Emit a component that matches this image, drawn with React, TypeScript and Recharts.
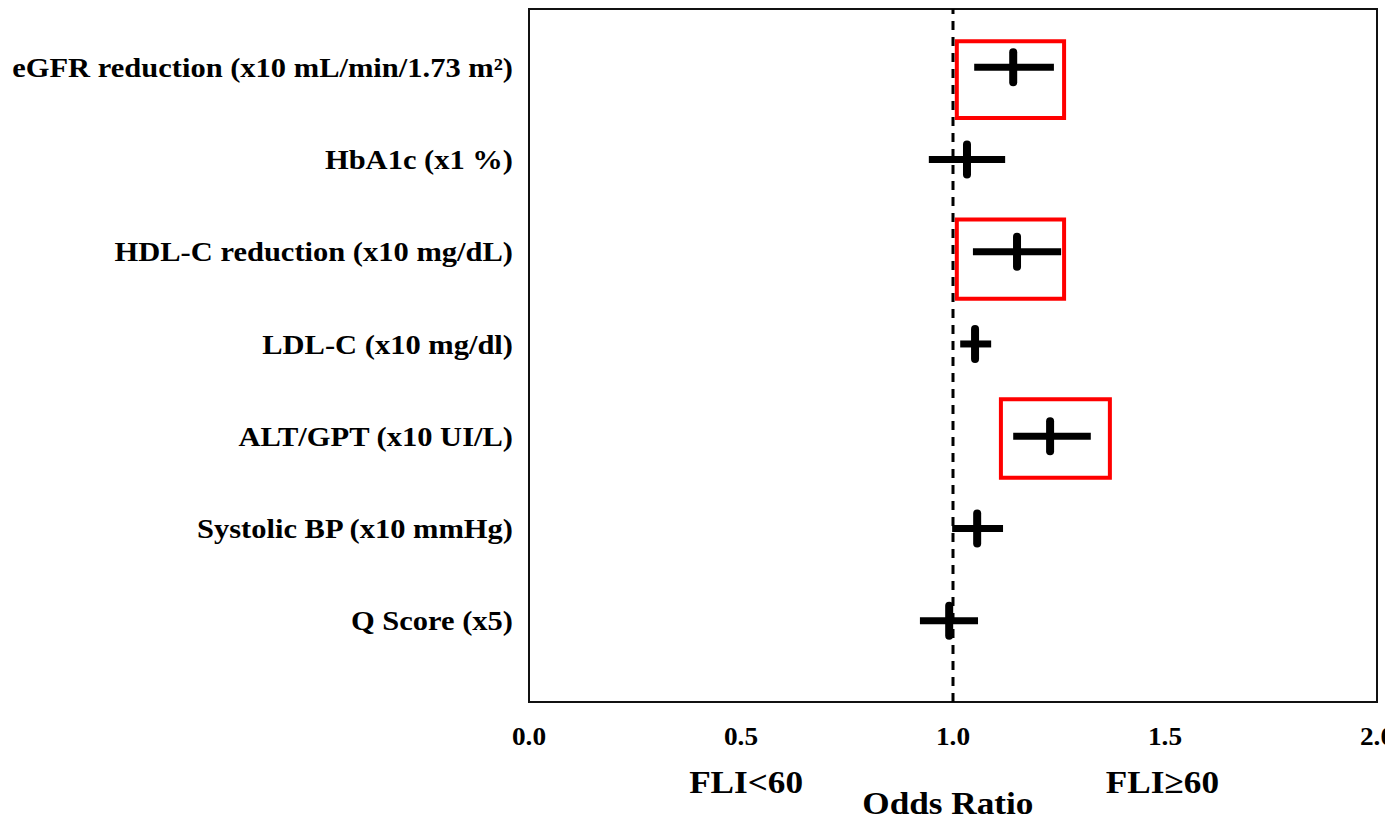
import {
  ScatterChart,
  Scatter,
  XAxis,
  YAxis,
  ErrorBar,
  ReferenceLine,
  ReferenceArea,
  Label,
} from "recharts";

const FONT = '"Liberation Serif", "Times New Roman", serif';

const labels = [
  "eGFR reduction (x10 mL/min/1.73 m²)",
  "HbA1c (x1 %)",
  "HDL-C reduction (x10 mg/dL)",
  "LDL-C  (x10 mg/dl)",
  "ALT/GPT (x10 UI/L)",
  "Systolic BP (x10 mmHg)",
  "Q Score (x5)",
];
const oddsRatio = [1.142, 1.033, 1.151, 1.052, 1.229, 1.057, 0.991];
const ciLow = [1.05, 0.943, 1.047, 1.017, 1.142, 0.998, 0.922];
const ciHigh = [1.238, 1.123, 1.255, 1.09, 1.325, 1.118, 1.059];
const xTicks = [0, 0.5, 1, 1.5, 2];

// significant rows, boxed in red
const boxRows = [0, 2, 4];
const boxLow = [1.009, 1.009, 1.113];
const boxHigh = [1.262, 1.262, 1.37];
const boxTop = [-0.28, 1.65, 3.6];
const boxBottom = [0.55, 2.51, 4.45];

const Y_DOMAIN: [number, number] = [-0.63, 6.88];

const data = labels.map((name, i) => ({
  name,
  row: i,
  or: oddsRatio[i],
  err: [oddsRatio[i] - ciLow[i], ciHigh[i] - oddsRatio[i]],
}));

// the source figure's type is a bit wider than Times, so stretch it horizontally
const stretch = (x: number, y: number, sx: number) =>
  `translate(${x} ${y}) scale(${sx} 1) translate(${-x} ${-y})`;

function Marker(props: any) {
  const { cx, cy } = props;
  if (cx == null || cy == null) return null;
  return (
    <line
      x1={cx}
      x2={cx}
      y1={cy - 15}
      y2={cy + 15}
      stroke="#000"
      strokeWidth={8}
      strokeLinecap="round"
    />
  );
}

function RowTick(props: any) {
  const { x, y, payload } = props;
  return (
    <text
      x={x}
      y={y}
      dy="0.355em"
      textAnchor="end"
      transform={stretch(x, y, 1.13)}
      fontFamily={FONT}
      fontWeight="bold"
      fontSize={27}
      fill="#000"
    >
      {labels[payload.value]}
    </text>
  );
}

function OrTick(props: any) {
  const { x, y, payload } = props;
  return (
    <text
      x={x}
      y={y}
      dy="0.71em"
      textAnchor="middle"
      transform={stretch(x, y, 1.05)}
      fontFamily={FONT}
      fontWeight="bold"
      fontSize={26}
      fill="#000"
    >
      {Number(payload.value).toFixed(1)}
    </text>
  );
}

function BottomTexts(props: any) {
  const { x, y, width } = props.viewBox;
  const items = [
    { text: "FLI<60", cx: x + width * 0.256, by: y + 91 },
    { text: "Odds Ratio", cx: x + width * 0.494, by: y + 112 },
    { text: "FLI≥60", cx: x + width * 0.747, by: y + 91 },
  ];
  return (
    <g>
      {items.map((it) => (
        <text
          key={it.text}
          x={it.cx}
          y={it.by}
          textAnchor="middle"
          transform={stretch(it.cx, it.by, 1.1)}
          fontFamily={FONT}
          fontWeight="bold"
          fontSize={32}
          fill="#000"
        >
          {it.text}
        </text>
      ))}
    </g>
  );
}

export default function App() {
  return (
    <ScatterChart
      width={1385}
      height={813}
      margin={{ top: 1, right: 16, bottom: 0, left: 0 }}
      style={{ background: "#fff" }}
    >
      <XAxis
        type="number"
        dataKey="or"
        domain={[0, 2]}
        ticks={xTicks}
        axisLine={false}
        tickLine={false}
        tickSize={0}
        tickMargin={25}
        height={119}
        tick={OrTick}
        allowDataOverflow
      >
        <Label content={BottomTexts} />
      </XAxis>
      <YAxis
        type="number"
        dataKey="row"
        domain={Y_DOMAIN}
        reversed
        ticks={labels.map((_, i) => i)}
        axisLine={false}
        tickLine={false}
        tickSize={0}
        tickMargin={16}
        width={521}
        interval={0}
        tick={RowTick}
        allowDataOverflow
      />
      <ReferenceArea
        x1={0}
        x2={2}
        y1={Y_DOMAIN[0]}
        y2={Y_DOMAIN[1]}
        fill="none"
        stroke="#111"
        strokeWidth={2}
      />
      <ReferenceLine x={1} stroke="#000" strokeWidth={3} strokeDasharray="9 7" />
      {boxRows.map((r, i) => (
        <ReferenceArea
          key={r}
          x1={boxLow[i]}
          x2={boxHigh[i]}
          y1={boxTop[i]}
          y2={boxBottom[i]}
          fill="none"
          stroke="#ff0000"
          strokeWidth={4}
        />
      ))}
      <Scatter data={data} shape={Marker} isAnimationActive={false}>
        <ErrorBar
          dataKey="err"
          direction="x"
          width={0}
          stroke="#000"
          strokeWidth={7}
          isAnimationActive={false}
        />
      </Scatter>
    </ScatterChart>
  );
}
